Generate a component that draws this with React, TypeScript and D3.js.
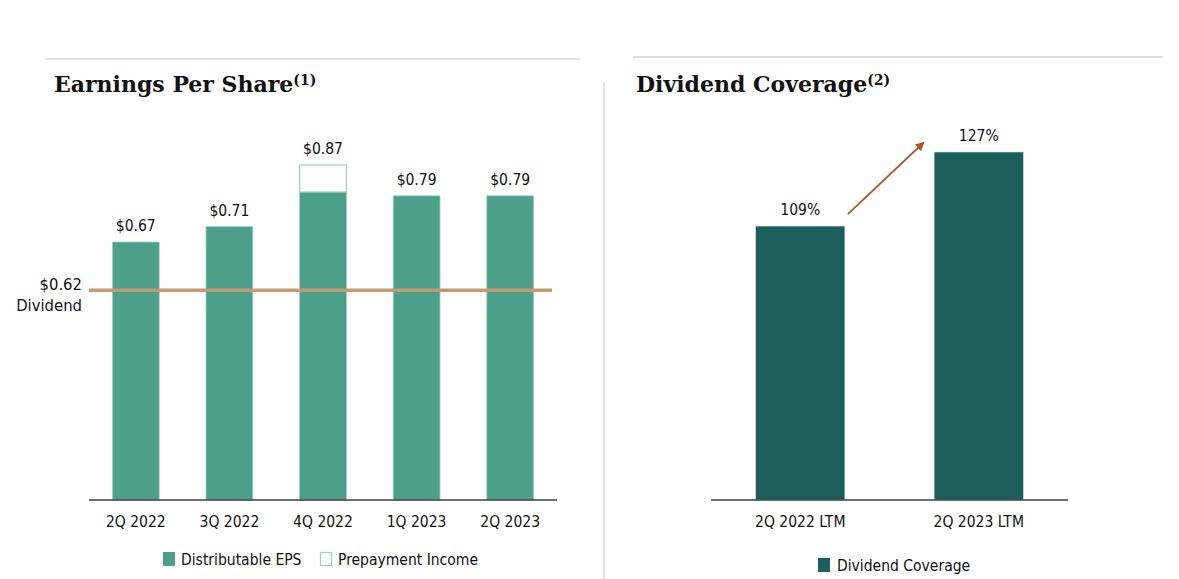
import React from 'react'
import * as d3 from 'd3'

// Earnings per share panel
const epsQuarters = ['2Q 2022', '3Q 2022', '4Q 2022', '1Q 2023', '2Q 2023']
const distributableEps = [0.67, 0.71, 0.80, 0.79, 0.79]
const prepaymentIncome = [0, 0, 0.07, 0, 0]
const epsLabels = ['$0.67', '$0.71', '$0.87', '$0.79', '$0.79']
const dividendLabel = '$0.62'
// the line sits lower than its label in the source chart
const dividendLineLevel = 0.545

// Dividend coverage panel
const coveragePeriods = ['2Q 2022 LTM', '2Q 2023 LTM']
const coverageValues = [1.09, 1.27]
const coverageLabels = ['109%', '127%']

const LABEL_FONT = '"DejaVu Sans Condensed", "DejaVu Sans", sans-serif'
const TITLE_FONT = '"DejaVu Serif", Georgia, serif'
const EPS_GREEN = '#4c9f8a'
const EPS_BORDER = '#9fd0c0'
const DARK_TEAL = '#1b5e5b'
const DIVIDEND_TAN = '#c49a74'
const ARROW = '#b0582a'

export default function App() {
  const baseY = 500

  // left chart scales
  const xEps = d3.scaleBand<string>().domain(epsQuarters).range([89, 557]).paddingInner(0.5).paddingOuter(0.25)
  const yEps = d3.scaleLinear().domain([0, 0.87]).range([baseY, 165])

  // right chart scales (axis does not start at zero)
  const xCov = d3.scaleBand<string>().domain(coveragePeriods).range([711, 1068]).paddingInner(0.5).paddingOuter(0.25)
  const yCov = d3.scaleLinear().domain([0.424, 1.27]).range([baseY, 152])

  const lblStyle = { fontFamily: LABEL_FONT, fontSize: 15.5, fill: '#111' }
  const titleStyle = { fontFamily: TITLE_FONT, fontWeight: 'bold' as const, fontSize: 22, fill: '#111' }

  const arrowStart = { x: (xCov(coveragePeriods[0]) || 0) + xCov.bandwidth() + 3, y: yCov(coverageValues[0]) - 12 }
  const arrowEnd = { x: (xCov(coveragePeriods[1]) || 0) - 11, y: yCov(coverageValues[1]) - 9 }

  return (
    <svg width={1179} height={579} style={{ position: 'absolute', left: 0, top: 0, background: '#fff' }}>
      <defs>
        <marker id="arrowhead" viewBox="0 0 10 10" refX="8" refY="5" markerWidth="5" markerHeight="5" orient="auto">
          <path d="M0,0 L10,5 L0,10 z" fill={ARROW} />
        </marker>
      </defs>

      {/* header rules and divider */}
      <line x1={45} x2={580} y1={59} y2={59} stroke="#d6d6d6" strokeWidth={1.5} />
      <line x1={633} x2={1163} y1={57} y2={57} stroke="#d6d6d6" strokeWidth={1.5} />
      <line x1={604} x2={604} y1={82} y2={579} stroke="#d6d6d6" strokeWidth={1.2} />

      {/* titles */}
      <text x={54} y={92} style={titleStyle}>
        Earnings Per Share<tspan fontSize={14} dy={-7}>(1)</tspan>
      </text>
      <text x={636} y={92} style={titleStyle}>
        Dividend Coverage<tspan fontSize={14} dy={-7}>(2)</tspan>
      </text>

      {/* EPS bars */}
      {epsQuarters.map((q, i) => {
        const x = xEps(q) || 0
        const w = xEps.bandwidth()
        const top = yEps(distributableEps[i])
        const prepTop = yEps(distributableEps[i] + prepaymentIncome[i])
        return (
          <g key={q}>
            <rect x={x} y={top} width={w} height={baseY - top} fill={EPS_GREEN} stroke={EPS_BORDER} strokeWidth={0.8} />
            {prepaymentIncome[i] > 0 && (
              <rect x={x} y={prepTop} width={w} height={top - prepTop} fill="#fff" stroke={EPS_BORDER} strokeWidth={1.2} />
            )}
            <text x={x + w / 2} y={prepTop - 11} textAnchor="middle" style={lblStyle}>{epsLabels[i]}</text>
            <text x={x + w / 2} y={527} textAnchor="middle" style={lblStyle}>{q}</text>
          </g>
        )
      })}

      {/* dividend line */}
      <line x1={89} x2={552} y1={yEps(dividendLineLevel)} y2={yEps(dividendLineLevel)} stroke={DIVIDEND_TAN} strokeWidth={3.5} />
      <text x={82} y={290} textAnchor="end" style={{ ...lblStyle, fontSize: 16.5 }}>{dividendLabel}</text>
      <text x={82} y={311} textAnchor="end" style={{ ...lblStyle, fontSize: 16.5 }}>Dividend</text>

      <line x1={89} x2={557} y1={baseY} y2={baseY} stroke="#404040" strokeWidth={1.5} />

      {/* EPS legend */}
      <rect x={163} y={552} width={12} height={14} fill={EPS_GREEN} />
      <text x={181} y={565} style={lblStyle}>Distributable EPS</text>
      <rect x={320.5} y={552.5} width={11} height={13} fill="#fff" stroke={EPS_BORDER} strokeWidth={1.2} />
      <text x={338} y={565} style={lblStyle}>Prepayment Income</text>

      {/* coverage bars */}
      {coveragePeriods.map((p, i) => {
        const x = xCov(p) || 0
        const w = xCov.bandwidth()
        const top = yCov(coverageValues[i])
        return (
          <g key={p}>
            <rect x={x} y={top} width={w} height={baseY - top} fill={DARK_TEAL} stroke="#cfe3df" strokeWidth={0.6} />
            <text x={x + w / 2} y={top - 11} textAnchor="middle" style={lblStyle}>{coverageLabels[i]}</text>
            <text x={x + w / 2} y={527} textAnchor="middle" style={lblStyle}>{p}</text>
          </g>
        )
      })}

      <line x1={arrowStart.x} y1={arrowStart.y} x2={arrowEnd.x} y2={arrowEnd.y} stroke={ARROW} strokeWidth={1.8} markerEnd="url(#arrowhead)" />

      <line x1={711} x2={1068} y1={baseY} y2={baseY} stroke="#404040" strokeWidth={1.5} />

      {/* coverage legend */}
      <rect x={818} y={558} width={12} height={14} fill={DARK_TEAL} />
      <text x={837} y={571} style={lblStyle}>Dividend Coverage</text>
    </svg>
  )
}
